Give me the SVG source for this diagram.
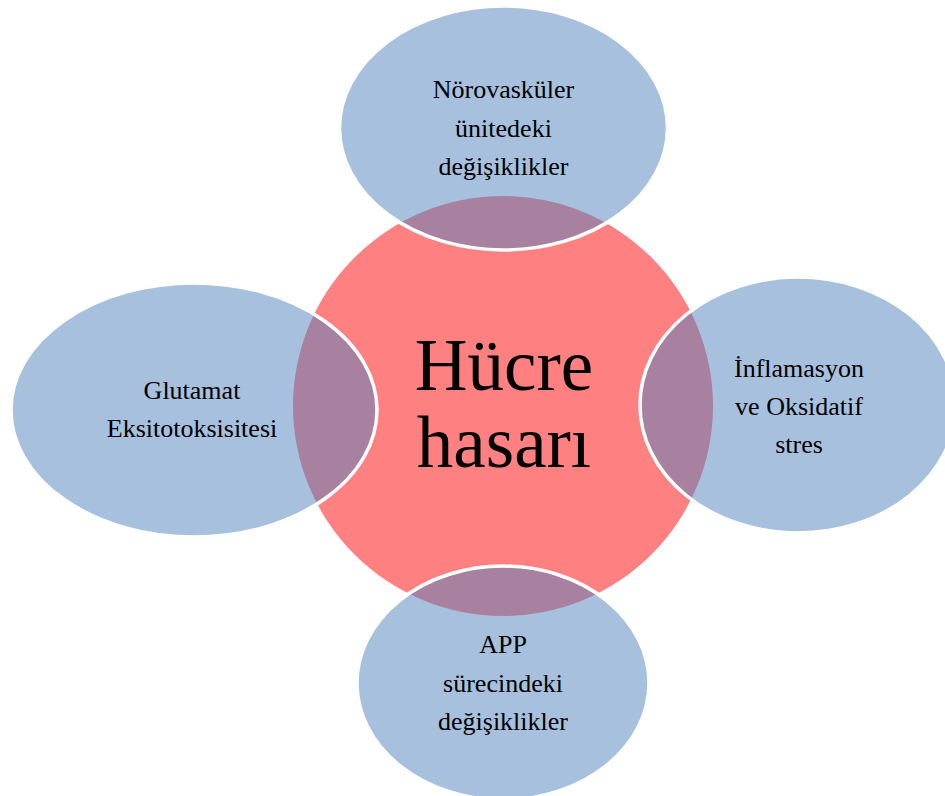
<svg xmlns="http://www.w3.org/2000/svg" width="945" height="796" viewBox="0 0 945 796">
<style>
.bg{fill:#ffffff}
.core{fill:#FF8080}
.sat{fill:#4F81BD;fill-opacity:0.5;stroke:#ffffff;stroke-width:3.5}
.t{font-family:"Liberation Serif","Times New Roman",serif;font-size:26px;fill:#000000;text-anchor:middle}
.big{font-family:"Liberation Serif","Times New Roman",serif;font-size:73px;fill:#000000;text-anchor:middle}
</style>
<rect class="bg" x="0" y="0" width="945" height="796"/>
<g id="center">
<circle class="core" cx="503" cy="406" r="210"/>
</g>
<g id="top">
<ellipse class="sat" cx="503.5" cy="128" rx="164" ry="122"/>
<text class="t" x="503.5" y="98">Nörovasküler</text>
<text class="t" x="503.5" y="136.5">ünitedeki</text>
<text class="t" x="503.5" y="175">değişiklikler</text>
</g>
<g id="left">
<ellipse class="sat" cx="194" cy="410" rx="183" ry="127"/>
<text class="t" x="192" y="399">Glutamat</text>
<text class="t" x="192" y="437">Eksitotoksisitesi</text>
</g>
<g id="right">
<ellipse class="sat" cx="798" cy="405" rx="158" ry="128"/>
<text class="t" x="799" y="377">İnflamasyon</text>
<text class="t" x="799" y="415">ve Oksidatif</text>
<text class="t" x="799" y="453">stres</text>
</g>
<g id="bottom">
<ellipse class="sat" cx="503" cy="683" rx="146" ry="117"/>
<text class="t" x="503" y="653">APP</text>
<text class="t" x="503" y="692">sürecindeki</text>
<text class="t" x="503" y="730">değişiklikler</text>
</g>
<g id="center-label">
<text class="big" x="504" y="390">Hücre</text>
<text class="big" x="504" y="467">hasarı</text>
</g>
<g id="connectors"></g>
</svg>
